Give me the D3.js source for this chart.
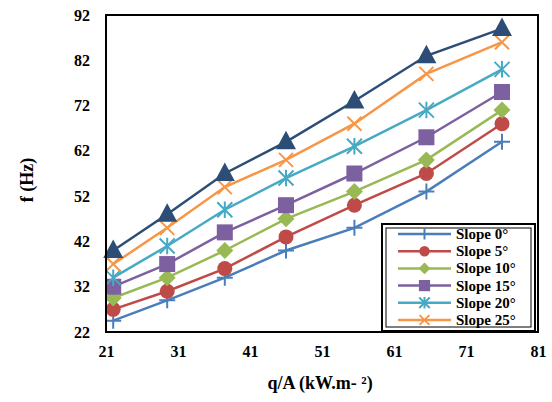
<!DOCTYPE html>
<html><head><meta charset="utf-8">
<script src="https://cdn.jsdelivr.net/npm/d3@7"></script>
<style>body{margin:0;background:#fff}svg{display:block}</style>
</head><body><svg id="c" width="552" height="402"></svg>
<script>
const xValues = [22, 29.5, 37.5, 46, 55.5, 65.5, 76];
const slope0  = [24.5, 29, 34, 40, 45, 53, 64];
const slope5  = [27, 31, 36, 43, 50, 57, 68];
const slope10 = [29.5, 34, 40, 47, 53, 60, 71];
const slope15 = [32, 37, 44, 50, 57, 65, 75];
const slope20 = [34, 41, 49, 56, 63, 71, 80];
const slope25 = [37, 45, 54, 60, 68, 79, 86];
const slope30 = [40, 48, 57, 64, 73, 83, 89];
const seriesNames = ["Slope 0°", "Slope 5°", "Slope 10°", "Slope 15°", "Slope 20°", "Slope 25°", ""];
const xTicks = [21, 31, 41, 51, 61, 71, 81];
const yTicks = [22, 32, 42, 52, 62, 72, 82, 92];

const colors = ["#4a7ebb", "#be4b48", "#98b954", "#7d60a0", "#46aac5", "#f79646", "#2c4d75"];
const markers = ["plus", "circle", "diamond", "square", "star", "cross", "triangle"];
const allSeries = [slope0, slope5, slope10, slope15, slope20, slope25, slope30];

const FONT = '"Liberation Serif","Times New Roman",serif';
const L = 106, R = 538, T = 15, B = 332;
const svg = d3.select("#c");
const x = d3.scaleLinear().domain([21, 81]).range([L, R]);
const y = d3.scaleLinear().domain([22, 92]).range([B, T]);

function drawMarker(g, type, cx, cy, color, s) {
  s = s || 1;
  if (type === "plus") {
    g.append("path").attr("d", `M${cx-8*s},${cy}H${cx+8*s}M${cx},${cy-8*s}V${cy+8*s}`).attr("stroke", color).attr("stroke-width", 2);
  } else if (type === "circle") {
    g.append("circle").attr("cx", cx).attr("cy", cy).attr("r", 7.5*s).attr("fill", color);
  } else if (type === "diamond") {
    const r = 8.5*s;
    g.append("path").attr("d", `M${cx},${cy-r}L${cx+r},${cy}L${cx},${cy+r}L${cx-r},${cy}Z`).attr("fill", color);
  } else if (type === "square") {
    const r = 8*s;
    g.append("rect").attr("x", cx-r).attr("y", cy-r).attr("width", 2*r).attr("height", 2*r).attr("fill", color);
  } else if (type === "star") {
    const r = 7.5*s;
    g.append("path").attr("d", `M${cx-r},${cy-r}L${cx+r},${cy+r}M${cx-r},${cy+r}L${cx+r},${cy-r}M${cx},${cy-r*1.1}V${cy+r*1.1}`).attr("stroke", color).attr("stroke-width", 2);
  } else if (type === "cross") {
    const r = 7*s;
    g.append("path").attr("d", `M${cx-r},${cy-r}L${cx+r},${cy+r}M${cx-r},${cy+r}L${cx+r},${cy-r}`).attr("stroke", color).attr("stroke-width", 2);
  } else if (type === "triangle") {
    const r = 10*s;
    g.append("path").attr("d", `M${cx},${cy-r*1.1}L${cx+r},${cy+r*0.75}L${cx-r},${cy+r*0.75}Z`).attr("fill", color);
  }
}

const line = d3.line().x((d, i) => x(xValues[i])).y(d => y(d));
allSeries.forEach((vals, si) => {
  const g = svg.append("g");
  g.append("path").datum(vals).attr("d", line).attr("fill", "none").attr("stroke", colors[si]).attr("stroke-width", 2.5);
  vals.forEach((v, i) => drawMarker(g, markers[si], x(xValues[i]), y(v), colors[si]));
});

svg.append("rect").attr("x", L).attr("y", T).attr("width", R-L).attr("height", B-T).attr("fill", "none").attr("stroke", "#000").attr("stroke-width", 2);

const xAxis = d3.axisBottom(x).tickValues(xTicks).tickSize(0).tickPadding(14);
const gx = svg.append("g").attr("transform", `translate(0,${B})`).call(xAxis);
gx.select(".domain").remove();
gx.selectAll("text").attr("fill", "#000").style("font-size", "16px").style("font-family", FONT).style("font-weight", "bold");

const yAxis = d3.axisLeft(y).tickValues(yTicks).tickSize(0).tickPadding(16);
const gy = svg.append("g").attr("transform", `translate(${L},0)`).call(yAxis);
gy.select(".domain").remove();
gy.selectAll("text").attr("fill", "#000").style("font-size", "16px").style("font-family", FONT).style("font-weight", "bold");

svg.append("text").attr("x", 320).attr("y", 389).attr("text-anchor", "middle")
  .style("font-family", FONT).style("font-weight", "bold").style("font-size", "18px").text("q/A (kW.m- ²)");
svg.append("text").attr("transform", "translate(33,180) rotate(-90)").attr("text-anchor", "middle")
  .style("font-family", FONT).style("font-weight", "bold").style("font-size", "18px").text("f (Hz)");

const lg = svg.append("g");
lg.append("rect").attr("x", 382).attr("y", 224).attr("width", 153).attr("height", 107).attr("fill", "#fff").attr("stroke", "#000").attr("stroke-width", 2);
lg.append("rect").attr("x", 386).attr("y", 228).attr("width", 145).attr("height", 99).attr("fill", "none").attr("stroke", "#000").attr("stroke-width", 1);
seriesNames.slice(0, 6).forEach((name, i) => {
  const yy = 234 + i * 17.2;
  lg.append("line").attr("x1", 398).attr("x2", 451).attr("y1", yy).attr("y2", yy).attr("stroke", colors[i]).attr("stroke-width", 2.5);
  drawMarker(lg, markers[i], 424.5, yy, colors[i], 0.7);
  lg.append("text").attr("x", 456).attr("y", yy + 5)
    .style("font-family", FONT).style("font-weight", "bold").style("font-size", "15px").text(name);
});
</script></body></html>
